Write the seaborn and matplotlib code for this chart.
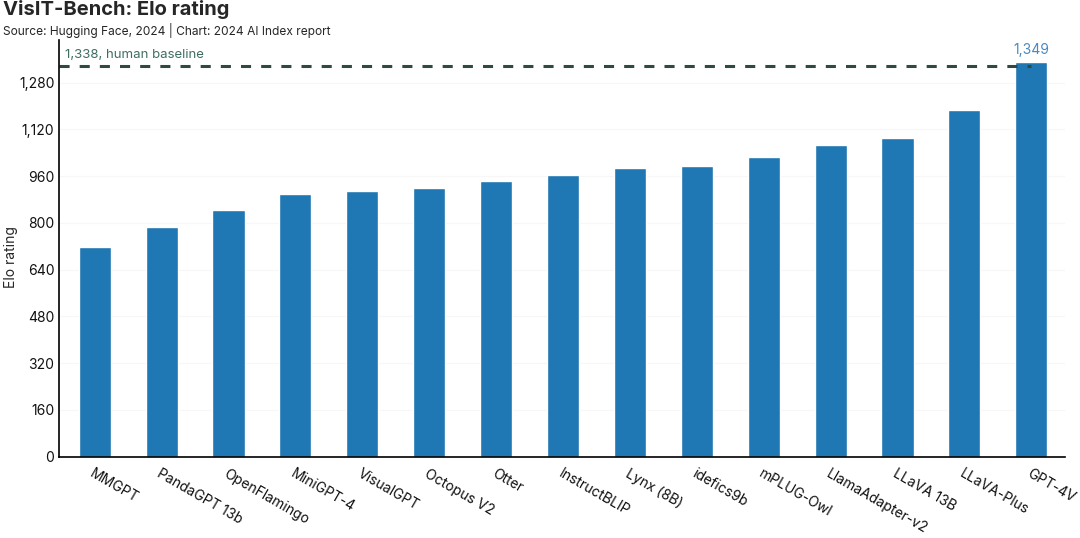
import pandas as pd
import seaborn as sns
import matplotlib.pyplot as plt
from matplotlib.ticker import FuncFormatter

models = ['MMGPT', 'PandaGPT 13b', 'OpenFlamingo', 'MiniGPT-4', 'VisualGPT', 'Octopus V2',
          'Otter', 'InstructBLIP', 'Lynx (8B)', 'idefics9b', 'mPLUG-Owl', 'LlamaAdapter-v2',
          'LLaVA 13B', 'LLaVA-Plus', 'GPT-4V']
elo = [716, 785, 843, 898, 910, 918, 945, 963, 989, 995, 1024, 1066, 1090, 1187, 1349]
human_baseline = 1338
y_ticks = [0, 160, 320, 480, 640, 800, 960, 1120, 1280]

df = pd.DataFrame({'model': models, 'elo': elo})

sns.set_style('white')
plt.rcParams['font.family'] = ['Inter', 'DejaVu Sans']

fig = plt.figure(figsize=(10.8, 5.38), dpi=100)
ax = fig.add_axes([0.0549, 0.1511, 0.931, 0.7746])

sns.barplot(data=df, x='model', y='elo', color='#1f77b4', saturation=1, width=0.48, ax=ax)

ax.set_xlim(-0.53, len(models) - 0.5)
ax.set_ylim(0, 1426)
ax.set_yticks(y_ticks)
ax.yaxis.set_major_formatter(FuncFormatter(lambda v, p: f'{int(v):,}'))
ax.yaxis.grid(True, color='#f7f7f7', lw=0.8)
ax.set_axisbelow(True)

for s in ['top', 'right']:
    ax.spines[s].set_visible(False)
for s in ['left', 'bottom']:
    ax.spines[s].set_color('black')
    ax.spines[s].set_linewidth(1.2)

ax.tick_params(axis='both', length=0, labelsize=10, colors='#111111')
ax.tick_params(axis='x', pad=7)
plt.setp(ax.get_xticklabels(), rotation=-30, ha='left', va='top', rotation_mode='anchor')

ax.set_xlabel('')
ax.set_ylabel('Elo rating', fontsize=10)
ax.yaxis.set_label_coords(-0.041, 0.48)

# human baseline
ax.plot([-0.53, len(models) - 1], [human_baseline, human_baseline], color='#2e4a42',
        lw=2.2, linestyle=(0, (3.3, 3.3)))
ax.text(-0.45, human_baseline + 16, f'{human_baseline:,}, human baseline', color='#3f6d62',
        fontsize=9.5, ha='left', va='bottom')
ax.text(len(models) - 1, elo[-1] + 20, f'{elo[-1]:,}', color='#4a8ac0',
        fontsize=10, ha='center', va='bottom')

fig.text(0.003, 0.982, 'VisIT-Bench: Elo rating', fontsize=14.5, fontweight='bold', va='center')
fig.text(0.003, 0.944, 'Source: Hugging Face, 2024 | Chart: 2024 AI Index report', fontsize=8.6, va='center')

fig.savefig('out.png', dpi=100)
